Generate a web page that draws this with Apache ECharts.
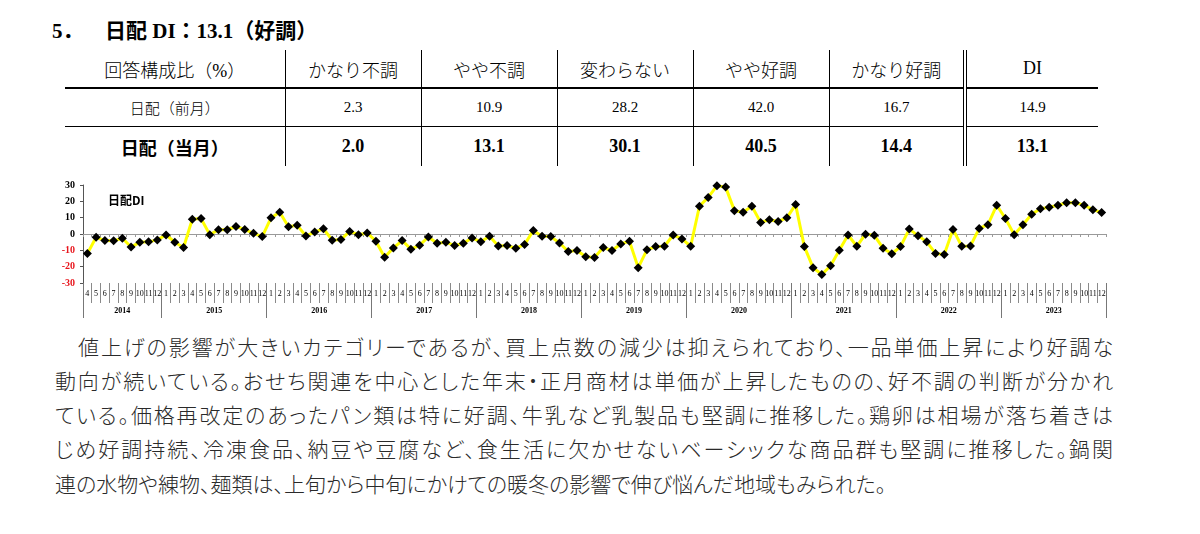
<!DOCTYPE html>
<html>
<head>
<meta charset="utf-8">
<script src="https://cdn.jsdelivr.net/npm/echarts@6/dist/echarts.min.js"></script>
<style>
  body {
    margin: 0;
    width: 1200px;
    height: 534px;
    background: #fff;
    position: relative;
    overflow: hidden;
    color: #000;
    font-family: "Liberation Serif", "Noto Sans CJK JP", serif;
  }
  .title {
    position: absolute;
    top: 14px;
    font-size: 21px;
    font-weight: bold;
    white-space: nowrap;
  }
  table.ratio {
    position: absolute;
    left: 65px;
    top: 50px;
    border-collapse: collapse;
    table-layout: fixed;
  }
  table.ratio td {
    text-align: center;
    padding: 0;
    white-space: nowrap;
    border-left: 1.5px solid #000;
  }
  table.ratio td:first-child { border-left: none; }
  table.ratio td.di { border-left: 4px double #000; }
  table.ratio tr.head td { height: 37px; font-size: 18px; font-weight: 300; border-bottom: 2px solid #000; }
  table.ratio tr.prev td { height: 37px; font-size: 15px; font-weight: 300; border-bottom: 1px solid #000; }
  table.ratio tr.cur td { height: 39px; font-size: 18px; font-weight: bold; }
  #chart {
    position: absolute;
    left: 0;
    top: 175px;
    width: 1200px;
    height: 150px;
  }
  .ln {
    position: absolute;
    left: 55px;
    width: 1058px;
    font-family: "Noto Sans CJK JP", sans-serif;
    font-feature-settings: "palt";
    font-size: 21px;
    font-weight: 300;
    line-height: 34px;
    color: #2a2a2a;
    white-space: nowrap;
    text-align: justify;
    text-align-last: justify;
  }
</style>
</head>
<body>
<div class="title" style="left:52px;">5．</div>
<div class="title" style="left:105px;">日配 DI：13.1（好調）</div>

<table class="ratio">
  <colgroup>
    <col style="width:220px"><col style="width:136px"><col style="width:136px"><col style="width:136px">
    <col style="width:136px"><col style="width:136px"><col style="width:133px">
  </colgroup>
  <tr class="head"><td>回答構成比（%）</td><td>かなり不調</td><td>やや不調</td><td>変わらない</td><td>やや好調</td><td>かなり好調</td><td class="di">DI</td></tr>
  <tr class="prev"><td>日配（前月）</td><td>2.3</td><td>10.9</td><td>28.2</td><td>42.0</td><td>16.7</td><td class="di">14.9</td></tr>
  <tr class="cur"><td>日配（当月）</td><td>2.0</td><td>13.1</td><td>30.1</td><td>40.5</td><td>14.4</td><td class="di">13.1</td></tr>
</table>

<div id="chart"></div>

<div class="ln" style="top:329px; left:78px; width:1035px;">値上げの影響が大きいカテゴリーであるが、買上点数の減少は抑えられており、一品単価上昇により好調な</div>
<div class="ln" style="top:363px;">動向が続いている。おせち関連を中心とした年末・正月商材は単価が上昇したものの、好不調の判断が分かれ</div>
<div class="ln" style="top:397px;">ている。価格再改定のあったパン類は特に好調、牛乳など乳製品も堅調に推移した。鶏卵は相場が落ち着きは</div>
<div class="ln" style="top:431px;">じめ好調持続、冷凍食品、納豆や豆腐など、食生活に欠かせないベーシックな商品群も堅調に推移した。鍋関</div>
<div class="ln" style="top:466px; text-align-last:left;">連の水物や練物、麺類は、上旬から中旬にかけての暖冬の影響で伸び悩んだ地域もみられた。</div>

<script>
// DI by year (2014 starts in April)
var years = [2014, 2015, 2016, 2017, 2018, 2019, 2020, 2021, 2022, 2023];
var firstMonth = 4;
var di2014 = [-12, -2, -4, -4.2, -2.6, -8, -5, -4.8, -3.6];
var di2015 = [-0.6, -5, -8.3, 9.1, 9.5, -0.4, 2.6, 2.6, 4.6, 2.8, 0.4, -1.6];
var di2016 = [9.9, 13.3, 4.4, 5.3, -1.2, 1.2, 3.2, -3.8, -3.4, 1.6, -0.4, 0.6];
var di2017 = [-4.4, -14.3, -8.5, -4, -9.3, -6.9, -1.8, -5.7, -5, -7.1, -5.7, -2.4];
var di2018 = [-4.8, -1.4, -7.3, -7.1, -8.7, -6.5, 2.2, -1.4, -1.6, -5.5, -10.7, -10.1];
var di2019 = [-13.9, -14.4, -8.3, -10.1, -6.1, -4.4, -20.6, -9.7, -7.7, -7.5, -0.6, -3];
var di2020 = [-7.5, 17, 22.4, 29.5, 28.7, 14.3, 13.3, 17, 7.1, 8.7, 7.7, 9.9];
var di2021 = [18, -7.7, -20.6, -24.8, -19.4, -9.9, -0.6, -7.5, -0.1, -0.8, -8.7, -12.1];
var di2022 = [-7.7, 3, -1, -4.8, -11.9, -12.5, 2.8, -7.5, -7.3, 3.4, 5.7, 17.6];
var di2023 = [9.5, -0.4, 5.7, 12.1, 15.4, 16.4, 17.6, 19.2, 19.2, 17.6, 14.9, 13.1];
var diByYear = [di2014, di2015, di2016, di2017, di2018, di2019, di2020, di2021, di2022, di2023];

// build the month categories
var categories = [];
var diValues = [];
var yearLabelAt = {}; // index -> true if the year label sits on a band edge
diByYear.forEach(function (vals, k) {
    var start = k === 0 ? firstMonth : 1;
    var mid = categories.length + Math.floor((vals.length - 1) / 2);
    yearLabelAt[mid] = vals.length % 2 === 0;
    vals.forEach(function (v, j) {
        categories.push(years[k] + '-' + (start + j));
        diValues.push(v);
    });
});

var myChart = echarts.init(document.getElementById('chart'));

var option = {
    animation: false,
    title: {
        text: '日配DI',
        left: 108,
        top: 19,
        padding: 0,
        textStyle: {
            fontSize: 12,
            fontWeight: 'bold',
            color: '#000',
            fontFamily: 'Noto Sans CJK JP'
        }
    },
    grid: {
        left: 83,
        right: 94,
        top: 10,
        bottom: 42
    },
    xAxis: [
        {
            // zero line
            type: 'category',
            data: categories,
            position: 'bottom',
            axisLine: { show: true, onZero: true, lineStyle: { color: '#9a9a9a', width: 1 } },
            axisTick: { show: true, interval: 0, length: 3, lineStyle: { color: '#9a9a9a' } },
            axisLabel: { show: false }
        },
        {
            // month row
            type: 'category',
            data: categories,
            position: 'bottom',
            axisLine: { show: false, onZero: false },
            axisTick: { show: true, length: 20, interval: 0, lineStyle: { color: '#8a8a8a' } },
            axisLabel: {
                interval: 0,
                margin: 7,
                fontSize: 8,
                fontFamily: 'Liberation Serif',
                color: '#000',
                formatter: function (value) {
                    return value.split('-')[1];
                }
            }
        },
        {
            // year row
            type: 'category',
            data: categories,
            position: 'bottom',
            axisLine: { show: false, onZero: false },
            axisTick: {
                show: true,
                length: 35,
                lineStyle: { color: '#777' },
                interval: function (index, value) {
                    return index === 0 || value.split('-')[1] === '1';
                }
            },
            axisLabel: {
                margin: 24,
                fontSize: 8,
                fontWeight: 'bold',
                fontFamily: 'Liberation Serif',
                color: '#000',
                interval: function (index) {
                    return yearLabelAt.hasOwnProperty(index);
                },
                formatter: function (value, index) {
                    var y = value.split('-')[0];
                    return yearLabelAt[index] ? '{e|' + y + '}' : '{c|' + y + '}';
                },
                rich: {
                    e: { padding: [0, 0, 0, 9], fontSize: 8, fontWeight: 'bold', fontFamily: 'Liberation Serif' },
                    c: { fontSize: 8, fontWeight: 'bold', fontFamily: 'Liberation Serif' }
                }
            }
        }
    ],
    yAxis: {
        type: 'value',
        min: -30,
        max: 30,
        interval: 10,
        splitLine: { show: false },
        axisLine: { show: true, lineStyle: { color: '#555', width: 1 } },
        axisTick: { show: true, length: 3, lineStyle: { color: '#555' } },
        axisLabel: {
            margin: 8,
            fontSize: 10,
            fontWeight: 'bold',
            fontFamily: 'Liberation Serif',
            color: function (value) {
                return value < 0 ? '#e8161d' : '#000';
            }
        }
    },
    series: [
        {
            name: '日配DI',
            type: 'line',
            xAxisIndex: 0,
            data: diValues,
            symbol: 'diamond',
            symbolSize: 9,
            showAllSymbol: true,
            itemStyle: { color: '#000' },
            lineStyle: { color: '#ffff00', width: 3 }
        }
    ]
};

myChart.setOption(option);
</script>
</body>
</html>
